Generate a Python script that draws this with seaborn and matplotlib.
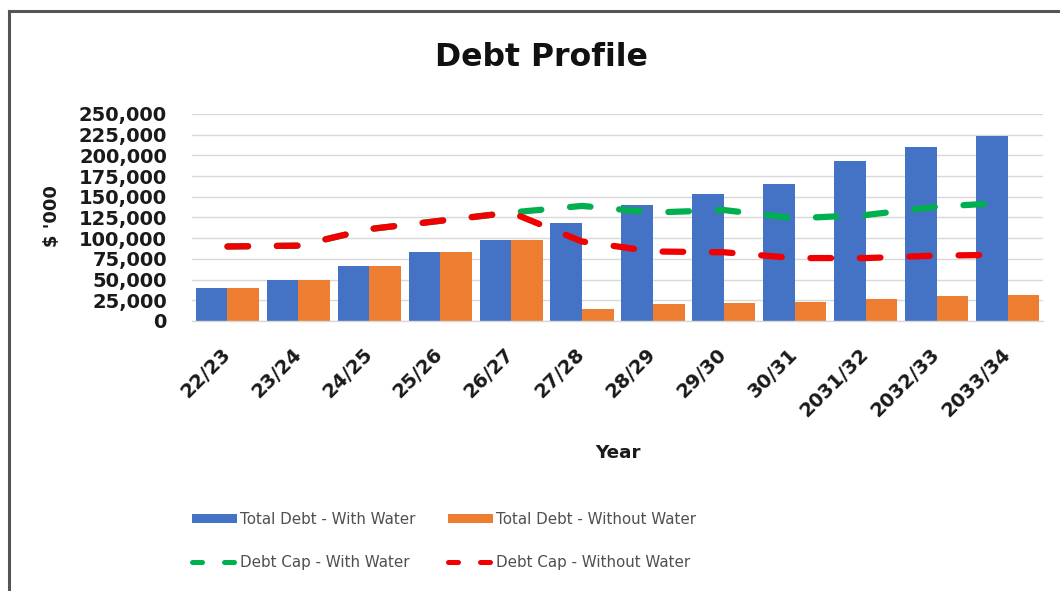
import numpy as np
import pandas as pd
import matplotlib
matplotlib.use("Agg")
import matplotlib.pyplot as plt
from matplotlib.patches import Patch
from matplotlib.lines import Line2D
from matplotlib.ticker import FuncFormatter, MultipleLocator
import seaborn as sns

years = ["22/23", "23/24", "24/25", "25/26", "26/27", "27/28", "28/29",
         "29/30", "30/31", "2031/32", "2032/33", "2033/34"]
debt_with_water = [40000, 49000, 66000, 83000, 98000, 118000, 140000,
                   153000, 166000, 193000, 210000, 224000]
debt_without_water = [40000, 49000, 66000, 83000, 98000, 15000, 20000,
                      22000, 23000, 27000, 30000, 32000]
cap_with_water = [90000, 91000, 111000, 121000, 131000, 139000, 131000,
                  134000, 124000, 128000, 138000, 143000]
cap_without_water = [90000, 91000, 111000, 121000, 131000, 96000, 84000,
                     83000, 76000, 76000, 79000, 80000]
series_names = ["Total Debt - With Water", "Total Debt - Without Water",
                "Debt Cap - With Water", "Debt Cap - Without Water"]

BLUE = "#4472C4"
ORANGE = "#ED7D31"
GREEN = "#00B050"
RED = "#F00000"

W, H = 1060, 591
fig = plt.figure(figsize=(W / 100, H / 100), dpi=100)
fig.patch.set_facecolor("white")
ax = fig.add_axes([192 / W, 1 - 321 / H, 851 / W, 207 / H])

df = pd.DataFrame({
    "Year": years * 2,
    "Value": debt_with_water + debt_without_water,
    "Series": [series_names[0]] * len(years) + [series_names[1]] * len(years),
})
sns.barplot(data=df, x="Year", y="Value", hue="Series",
            palette=[BLUE, ORANGE], saturation=1, width=0.89, gap=0,
            legend=False, ax=ax, zorder=2)

xpos = np.arange(len(years))
lw = 4.5
for vals, col in [(cap_with_water, GREEN), (cap_without_water, RED)]:
    sns.lineplot(x=xpos, y=vals, color=col, lw=lw, ax=ax, legend=False,
                 zorder=3)
    ln = ax.lines[-1]
    ln.set_linestyle((0, (3.3, 4.6)))
    ln.set_dash_capstyle("round")
    ln.set_solid_capstyle("round")

ax.set_xlim(-0.5, len(years) - 0.5)
ax.set_ylim(0, 250000)
ax.yaxis.set_major_locator(MultipleLocator(25000))
ax.yaxis.set_major_formatter(FuncFormatter(lambda v, p: f"{int(v):,}"))
ax.set_xlabel("")
ax.set_ylabel("")
ax.grid(axis="y", color="#D9D9D9", lw=1.0, zorder=0)
ax.set_axisbelow(True)
for s in ["top", "right", "left"]:
    ax.spines[s].set_visible(False)
ax.spines["bottom"].set_color("#D9D9D9")
ax.spines["bottom"].set_linewidth(1.0)

ax.tick_params(axis="both", length=0)
ax.tick_params(axis="y", pad=18, labelsize=14, labelcolor="#1a1a1a")
ax.tick_params(axis="x", pad=22, labelsize=14, labelcolor="#1a1a1a")
for t in ax.get_yticklabels():
    t.set_fontweight("bold")
ax.set_xticks(xpos)
ax.set_xticklabels(years, rotation=45, ha="right", va="center",
                   rotation_mode="anchor", fontweight="bold")

fig.text(541 / W, 1 - 57 / H, "Debt Profile", ha="center", va="center",
         fontsize=22.7, fontweight="bold", color="#111111")
fig.text(52 / W, 1 - 216 / H, "$ '000", ha="center", va="center",
         rotation=90, fontsize=13, fontweight="bold", color="#1a1a1a")
fig.text(618 / W, 1 - 453 / H, "Year", ha="center", va="center",
         fontsize=13.2, fontweight="bold", color="#1a1a1a")

handles = [
    Patch(facecolor=BLUE, edgecolor="none"),
    Line2D([], [], color=GREEN, lw=3.6, linestyle=(0, (2.0, 4.4)),
           dash_capstyle="round"),
    Patch(facecolor=ORANGE, edgecolor="none"),
    Line2D([], [], color=RED, lw=3.6, linestyle=(0, (2.0, 4.4)),
           dash_capstyle="round"),
]
labels = [series_names[0], series_names[2], series_names[1], series_names[3]]
leg = fig.legend(handles, labels, ncol=2, loc="center left",
                 bbox_to_anchor=(192 / W, 1 - 541 / H), frameon=False,
                 fontsize=10.9, handlelength=3.0, handleheight=0.5,
                 handletextpad=0.2, columnspacing=2.1, labelspacing=1.85,
                 borderpad=0, borderaxespad=0)
for t in leg.get_texts():
    t.set_color("#505050")

fig.add_artist(Line2D([9 / W, 1], [1 - 11 / H, 1 - 11 / H],
                      transform=fig.transFigure, color="#555555", lw=2.2))
fig.add_artist(Line2D([9 / W, 9 / W], [0, 1 - 11 / H],
                      transform=fig.transFigure, color="#555555", lw=2.2))

fig.savefig("out.png", dpi=100, facecolor="white")
